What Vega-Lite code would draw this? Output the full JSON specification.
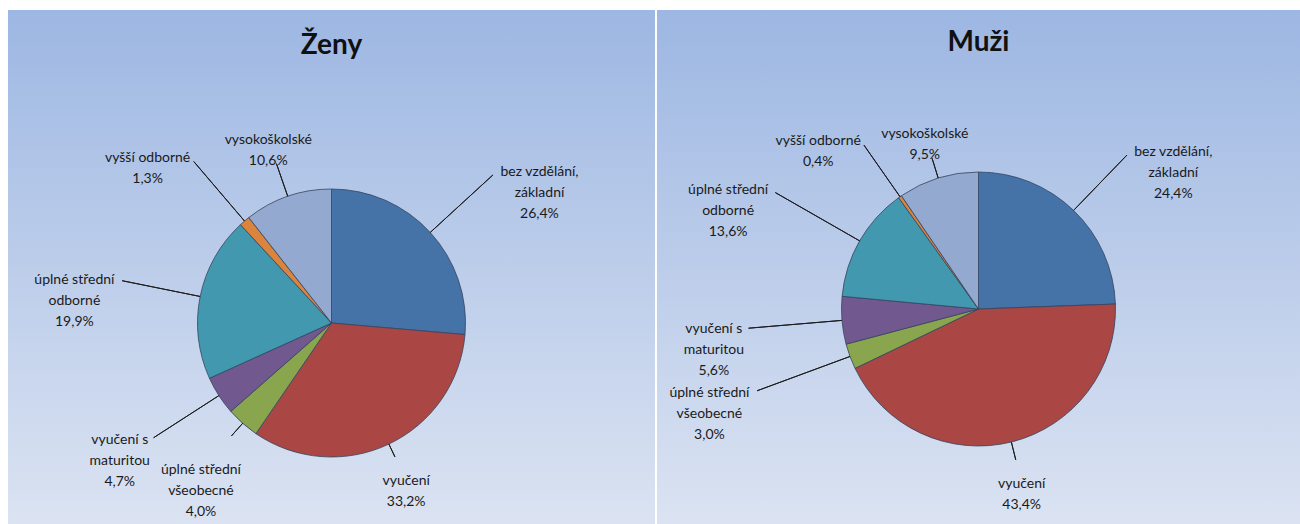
{
  "$schema": "https://vega.github.io/schema/vega-lite/v6.json",
  "padding": {"left": 8, "top": 10, "right": 0, "bottom": 0},
  "background": "white",
  "spacing": 2,
  "config": {
    "font": "Lato",
    "view": {"stroke": null}
  },
  "datasets": {
    "zeny": [
      {"k": "bez vzdělání, základní", "label": "bez vzdělání,\nzákladní", "v": 0.264, "o": 1},
      {"k": "vyučení", "label": "vyučení", "v": 0.332, "o": 2},
      {"k": "úplné střední všeobecné", "label": "úplné střední\nvšeobecné", "v": 0.040, "o": 3},
      {"k": "vyučení s maturitou", "label": "vyučení s\nmaturitou", "v": 0.047, "o": 4},
      {"k": "úplné střední odborné", "label": "úplné střední\nodborné", "v": 0.199, "o": 5},
      {"k": "vyšší odborné", "label": "vyšší odborné", "v": 0.013, "o": 6},
      {"k": "vysokoškolské", "label": "vysokoškolské", "v": 0.106, "o": 7}
    ],
    "muzi": [
      {"k": "bez vzdělání, základní", "label": "bez vzdělání,\nzákladní", "v": 0.244, "o": 1},
      {"k": "vyučení", "label": "vyučení", "v": 0.434, "o": 2},
      {"k": "úplné střední všeobecné", "label": "úplné střední\nvšeobecné", "v": 0.030, "o": 3},
      {"k": "vyučení s maturitou", "label": "vyučení s\nmaturitou", "v": 0.056, "o": 4},
      {"k": "úplné střední odborné", "label": "úplné střední\nodborné", "v": 0.136, "o": 5},
      {"k": "vyšší odborné", "label": "vyšší odborné", "v": 0.004, "o": 6},
      {"k": "vysokoškolské", "label": "vysokoškolské", "v": 0.095, "o": 7}
    ],
    "tz": [{"t": "Ženy"}],
    "tm": [{"t": "Muži"}]
  },
  "hconcat": [
    {
      "spacing": 0,
      "vconcat": [
        {
          "width": 647,
          "height": 112,
          "view": {"fill": {"gradient": "linear", "x1": 0, "y1": 0, "x2": 0, "y2": 1, "stops": [{"offset": 0, "color": "#9db7e3"}, {"offset": 1, "color": "#abc1e6"}]}},
          "data": {"name": "tz"},
          "mark": {"type": "text", "fontSize": 28, "fontWeight": "bold", "font": "Lato", "color": "#111111", "baseline": "alphabetic", "dy": -12},
          "encoding": {"text": {"field": "t"}}
        },
        {
          "width": 647,
          "height": 402,
          "view": {"fill": {"gradient": "linear", "x1": 0, "y1": 0, "x2": 0, "y2": 1, "stops": [{"offset": 0, "color": "#abc1e6"}, {"offset": 1, "color": "#dbe3f2"}]}},
          "data": {"name": "zeny"},
          "layer": [
            {
              "mark": {"type": "arc", "radius": 134, "stroke": "#33455f", "strokeWidth": 0.8},
              "encoding": {
                "theta": {"field": "v", "type": "quantitative", "stack": true},
                "order": {"field": "o", "type": "quantitative"},
                "color": {"field": "k", "type": "nominal", "legend": null,
                  "scale": {"domain": ["bez vzdělání, základní", "vyučení", "úplné střední všeobecné", "vyučení s maturitou", "úplné střední odborné", "vyšší odborné", "vysokoškolské"],
                            "range": ["#4572A7", "#AA4643", "#89A54E", "#71588F", "#4198AF", "#DB843D", "#93A9CF"]}}
              }
            },
            {
              "transform": [
                {"stack": "v", "groupby": [], "sort": [{"field": "o"}], "as": ["s", "e"]},
                {"fold": ["s", "e"], "as": ["side", "pos"]},
                {"aggregate": [{"op": "mean", "field": "pos", "as": "mid"}, {"op": "min", "field": "v", "as": "v"}], "groupby": ["k", "label"]}
              ],
              "layer": [
                {
                  "mark": {"type": "arc", "radius2": 134, "filled": false, "color": "#1c1c1c", "strokeWidth": 1,
                    "radius": {"expr": "1/pow(pow(abs(sin(2*PI*datum.mid))/215,3)+pow(abs(cos(2*PI*datum.mid))/(cos(2*PI*datum.mid)>0?185:160),3),1/3) - (((360*datum.mid>=30&&360*datum.mid<135)||(360*datum.mid>=225&&360*datum.mid<330)) ? 5 : ((indexof(datum.label,'\\n')>=0?32:21)/abs(cos(2*PI*datum.mid))+3))"}},
                  "encoding": {"theta": {"field": "mid", "type": "quantitative", "stack": null}, "theta2": {"field": "mid"}}
                },
                {
                  "mark": {"type": "text", "lineBreak": "\n", "baseline": "middle", "align": "center", "lineHeight": 21, "fontSize": 14, "color": "#1a1a1a",
                    "radius": {"expr": "1/pow(pow(abs(sin(2*PI*datum.mid))/215,3)+pow(abs(cos(2*PI*datum.mid))/(cos(2*PI*datum.mid)>0?185:160),3),1/3)"},
                    "dx": {"expr": "((360*datum.mid>=30&&360*datum.mid<135)?1:((360*datum.mid>=225&&360*datum.mid<330)?-1:0))*3.3*max(indexof(datum.label,'\\n')>=0?indexof(datum.label,'\\n'):length(datum.label),length(datum.label)-indexof(datum.label,'\\n')-1,5)"},
                    "text": {"expr": "datum.label + '\\n' + replace(format(datum.v, '.1%'), '.', ',')"}},
                  "encoding": {"theta": {"field": "mid", "type": "quantitative", "stack": null}}
                }
              ]
            }
          ]
        }
      ]
    },
    {
      "spacing": 0,
      "vconcat": [
        {
          "width": 643,
          "height": 84,
          "view": {"fill": {"gradient": "linear", "x1": 0, "y1": 0, "x2": 0, "y2": 1, "stops": [{"offset": 0, "color": "#9db7e3"}, {"offset": 1, "color": "#a7bee5"}]}},
          "data": {"name": "tm"},
          "mark": {"type": "text", "fontSize": 28, "fontWeight": "bold", "font": "Lato", "color": "#111111", "baseline": "alphabetic", "dy": -1},
          "encoding": {"text": {"field": "t"}}
        },
        {
          "width": 643,
          "height": 430,
          "view": {"fill": {"gradient": "linear", "x1": 0, "y1": 0, "x2": 0, "y2": 1, "stops": [{"offset": 0, "color": "#a7bee5"}, {"offset": 1, "color": "#dbe3f2"}]}},
          "data": {"name": "muzi"},
          "layer": [
            {
              "mark": {"type": "arc", "radius": 137, "stroke": "#33455f", "strokeWidth": 0.8},
              "encoding": {
                "theta": {"field": "v", "type": "quantitative", "stack": true},
                "order": {"field": "o", "type": "quantitative"},
                "color": {"field": "k", "type": "nominal", "legend": null,
                  "scale": {"domain": ["bez vzdělání, základní", "vyučení", "úplné střední všeobecné", "vyučení s maturitou", "úplné střední odborné", "vyšší odborné", "vysokoškolské"],
                            "range": ["#4572A7", "#AA4643", "#89A54E", "#71588F", "#4198AF", "#DB843D", "#93A9CF"]}}
              }
            },
            {
              "transform": [
                {"stack": "v", "groupby": [], "sort": [{"field": "o"}], "as": ["s", "e"]},
                {"fold": ["s", "e"], "as": ["side", "pos"]},
                {"aggregate": [{"op": "mean", "field": "pos", "as": "mid"}, {"op": "min", "field": "v", "as": "v"}], "groupby": ["k", "label"]}
              ],
              "layer": [
                {
                  "mark": {"type": "arc", "radius2": 137, "filled": false, "color": "#1c1c1c", "strokeWidth": 1,
                    "radius": {"expr": "1/pow(pow(abs(sin(2*PI*datum.mid))/235,3)+pow(abs(cos(2*PI*datum.mid))/175,3),1/3) - (((360*datum.mid>=30&&360*datum.mid<135)||(360*datum.mid>=225&&360*datum.mid<330)) ? 5 : ((indexof(datum.label,'\\n')>=0?32:21)/abs(cos(2*PI*datum.mid))+3))"}},
                  "encoding": {"theta": {"field": "mid", "type": "quantitative", "stack": null}, "theta2": {"field": "mid"}}
                },
                {
                  "mark": {"type": "text", "lineBreak": "\n", "baseline": "middle", "align": "center", "lineHeight": 21, "fontSize": 14, "color": "#1a1a1a",
                    "radius": {"expr": "1/pow(pow(abs(sin(2*PI*datum.mid))/235,3)+pow(abs(cos(2*PI*datum.mid))/175,3),1/3)"},
                    "dx": {"expr": "((360*datum.mid>=30&&360*datum.mid<135)?1:((360*datum.mid>=225&&360*datum.mid<330)?-1:0))*3.3*max(indexof(datum.label,'\\n')>=0?indexof(datum.label,'\\n'):length(datum.label),length(datum.label)-indexof(datum.label,'\\n')-1,5)"},
                    "text": {"expr": "datum.label + '\\n' + replace(format(datum.v, '.1%'), '.', ',')"}},
                  "encoding": {"theta": {"field": "mid", "type": "quantitative", "stack": null}}
                }
              ]
            }
          ]
        }
      ]
    }
  ]
}
